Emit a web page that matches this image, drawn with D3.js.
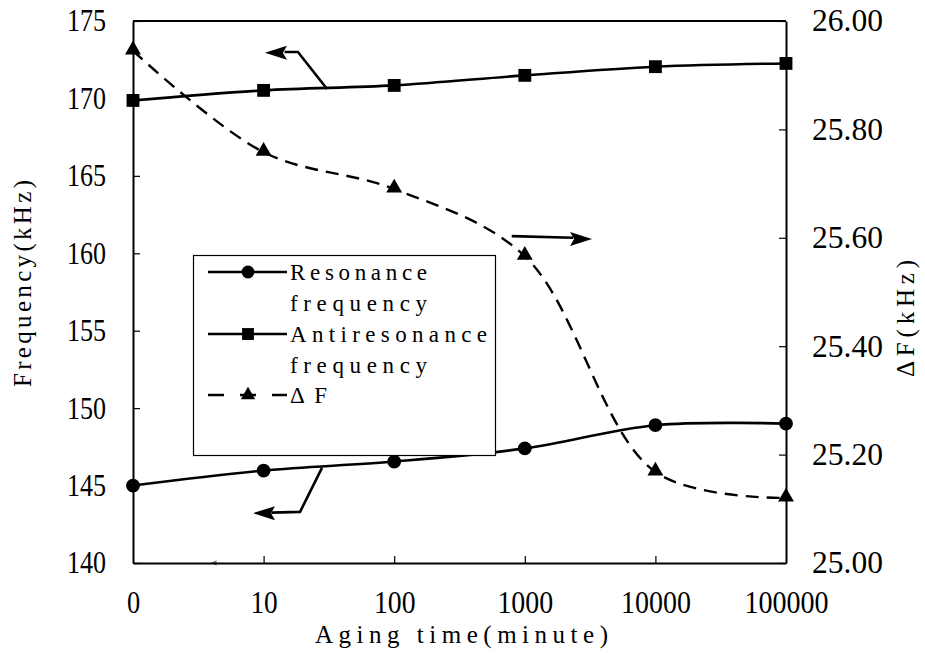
<!DOCTYPE html>
<html><head><meta charset="utf-8">
<script src="https://cdn.jsdelivr.net/npm/d3@7"></script>
<style>body{margin:0;background:#fff}svg{display:block}svg text{font-family:"Liberation Serif","DejaVu Serif","Times New Roman",serif}</style>
</head><body>
<svg id="c" width="925" height="653"></svg>
<script>
const categories = ["0","10","100","1000","10000","100000"];
const resonance = [145.0, 145.97, 146.55, 147.4, 148.9, 149.0];
const antiresonance = [169.87, 170.52, 170.84, 171.49, 172.05, 172.26];
const deltaF = [25.945, 25.758, 25.69, 25.566, 25.168, 25.12];
const leftTicks = [140,145,150,155,160,165,170,175];
const rightTicks = [25.0,25.2,25.4,25.6,25.8,26.0];
const legendLabels = [["Resonance","frequency"],["Antiresonance","frequency"],["ΔF"]];

const svg = d3.select("#c");
const M = {l:133, r:786, t:21, b:563};
const x = d3.scalePoint().domain(categories).range([M.l, M.r]);
const yL = d3.scaleLinear().domain([140,175]).range([M.b, M.t]);
const yR = d3.scaleLinear().domain([25,26]).range([M.b, M.t]);
const xi = i => x(categories[0]) + i * x.step();

function styleTicks(g, lenFn){
  g.attr("font-family", null).attr("font-size", null);
  g.selectAll(".tick text").style("font-size", "31px").attr("fill","#000")
    .attr("lengthAdjust","spacingAndGlyphs").attr("textLength", d => lenFn(d));
  g.selectAll(".tick line").attr("stroke","#000").attr("stroke-width",1.2);
  g.select(".domain").attr("stroke","#000").attr("stroke-width",2);
}

// axes
const gL = svg.append("g").attr("transform",`translate(${M.l},0)`)
  .call(d3.axisLeft(yL).tickValues(leftTicks).tickSize(-7).tickSizeOuter(0).tickPadding(27));
styleTicks(gL, d => String(d).length*13);
const gR = svg.append("g").attr("transform",`translate(${M.r},0)`)
  .call(d3.axisRight(yR).tickValues(rightTicks).tickSize(-7).tickSizeOuter(0).tickPadding(26).tickFormat(d3.format(".2f")));
styleTicks(gR, d => 71);
const gB = svg.append("g").attr("transform",`translate(0,${M.b})`)
  .call(d3.axisBottom(x).tickSize(-7).tickSizeOuter(0).tickPadding(28));
styleTicks(gB, d => String(d).length*14.2 - 1);
gB.selectAll(".tick").filter((d,i)=> i===0 || i===categories.length-1).select("line").remove();
svg.append("line").attr("x1",M.l).attr("x2",M.r).attr("y1",M.t).attr("y2",M.t).attr("stroke","#000").attr("stroke-width",2);

// titles
svg.append("text").attr("x",315).attr("y",643).style("font-size","25px")
  .attr("textLength",293).attr("lengthAdjust","spacing").text("Aging time(minute)");
svg.append("text").attr("transform","translate(31,387) rotate(-90)").style("font-size","25px")
  .attr("textLength",207).attr("lengthAdjust","spacing").text("Frequency(kHz)");
svg.append("text").attr("transform","translate(914,377) rotate(-90)").style("font-size","25px")
  .attr("textLength",117).attr("lengthAdjust","spacing").text("ΔF(kHz)");

// series
const curve = d3.curveCatmullRom.alpha(0.5);
const lineL = d3.line().x((d,i)=>x(categories[i])).y(d=>yL(d)).curve(curve);
const lineR = d3.line().x((d,i)=>x(categories[i])).y(d=>yR(d)).curve(curve);
svg.append("path").attr("d",lineR(deltaF)).attr("fill","none").attr("stroke","#000").attr("stroke-width",2.4).attr("stroke-dasharray","13,8");
svg.append("path").attr("d",lineL(resonance)).attr("fill","none").attr("stroke","#000").attr("stroke-width",2.6);
svg.append("path").attr("d",lineL(antiresonance)).attr("fill","none").attr("stroke","#000").attr("stroke-width",2.6);

const sym = (type,size)=>d3.symbol().type(type).size(size)();
svg.selectAll(".rc").data(resonance).join("path").attr("transform",(d,i)=>`translate(${x(categories[i])},${yL(d)})`).attr("d",sym(d3.symbolCircle,150));
svg.selectAll(".ar").data(antiresonance).join("path").attr("transform",(d,i)=>`translate(${x(categories[i])},${yL(d)})`).attr("d",sym(d3.symbolSquare,165));
svg.selectAll(".df").data(deltaF).join("path").attr("transform",(d,i)=>`translate(${x(categories[i])},${yR(d)-1})`).attr("d",sym(d3.symbolTriangle,110));

// annotation arrows (in data space)
function arrow(pts, tip, half, len){
  const p = pts.map(q=>[xi(q[0]), q[2]==="R" ? yR(q[1]) : yL(q[1])]);
  svg.append("path").attr("d",d3.line()(p)).attr("fill","none").attr("stroke","#000").attr("stroke-width",2.6).attr("stroke-linejoin","miter");
  const t = [xi(tip[0]), tip[2]==="R" ? yR(tip[1]) : yL(tip[1])];
  const dir = Math.sign(t[0]-p[p.length-1][0]);
  const bx = t[0]-dir*len;
  svg.append("path").attr("d",`M${t[0]},${t[1]}L${bx},${t[1]-half}L${bx+dir*4},${t[1]}L${bx},${t[1]+half}Z`).attr("fill","#000");
}
arrow([[1.486,170.61],[1.263,173.0],[1.16,173.0]],[1.01,172.95],7,22);
arrow([[1.447,146.14],[1.279,143.3],[1.06,143.25]],[0.919,143.22],7,22);
arrow([[2.90,25.603,"R"],[3.37,25.60,"R"]],[3.515,25.598,"R"],7,22);
arrow([[0.64,140],[0.63,140]],[0.6,140],3,6);

// legend
const lg = svg.append("g");
lg.append("rect").attr("x",193.5).attr("y",255.5).attr("width",302).attr("height",200).attr("fill","#fff").attr("stroke","#000").attr("stroke-width",1.2);
const rowsY = [272, 334, 395];
const baseY = [[280,311],[342,373],[403]];
const lens = [[137,137],[197,137],[37]];
const syms = [[d3.symbolCircle,130],[d3.symbolSquare,140],[d3.symbolTriangle,90]];
legendLabels.forEach((lab,k)=>{
  const y = rowsY[k];
  if(k<2){
    lg.append("line").attr("x1",208).attr("x2",287).attr("y1",y).attr("y2",y).attr("stroke","#000").attr("stroke-width",2.4);
  } else {
    lg.append("line").attr("x1",208).attr("x2",287).attr("y1",y).attr("y2",y).attr("stroke","#000").attr("stroke-width",2.4).attr("stroke-dasharray","16,16");
  }
  lg.append("path").attr("transform",`translate(248,${y})`).attr("d",sym(syms[k][0],syms[k][1]));
  lab.forEach((t,j)=>{
    lg.append("text").attr("x",290).attr("y",baseY[k][j]).style("font-size","23px")
      .attr("textLength",lens[k][j]).attr("lengthAdjust","spacing").text(t);
  });
});
</script>
</body></html>
